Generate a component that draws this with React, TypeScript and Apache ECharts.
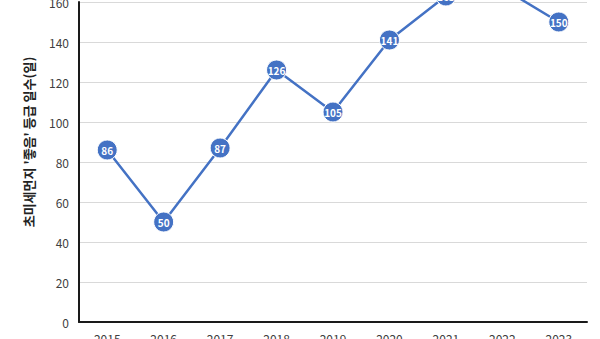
import React, { useEffect, useRef } from "react";
import * as echarts from "echarts";

const years = ["2015", "2016", "2017", "2018", "2019", "2020", "2021", "2022", "2023"];
const goodDays = [86, 50, 87, 126, 105, 141, 163, 167, 150];
const yAxisName = "초미세먼지 '좋음' 등급 일수(일)";

export default function App() {
  const ref = useRef<HTMLDivElement>(null);
  useEffect(() => {
    if (!ref.current) return;
    const chart = echarts.init(ref.current, null, { renderer: "svg" });
    const font = "'Noto Sans CJK KR', 'Noto Sans', sans-serif";
    chart.setOption({
      animation: false,
      backgroundColor: "#ffffff",
      grid: { left: 79, right: 13, top: 2, bottom: 17, outerBoundsMode: "none", containLabel: false },
      graphic: [
        {
          type: "text",
          x: 28,
          y: 142,
          rotation: Math.PI / 2,
          style: {
            text: yAxisName,
            fill: "#222",
            fontSize: 13,
            fontWeight: "bold",
            fontFamily: font,
            align: "center",
            verticalAlign: "middle",
          },
        },
      ],
      xAxis: {
        type: "category",
        data: years,
        boundaryGap: true,
        axisLine: { lineStyle: { color: "#1a1a1a", width: 2 } },
        axisTick: { show: false },
        axisLabel: { color: "#404040", fontSize: 12, margin: 10, fontFamily: font },
      },
      yAxis: {
        type: "value",
        min: 0,
        max: 160,
        interval: 20,
        axisLine: { show: true, lineStyle: { color: "#1a1a1a", width: 2 } },
        axisTick: { show: false },
        axisLabel: { color: "#404040", fontSize: 12, margin: 10, fontFamily: font },
        splitLine: { lineStyle: { color: "#d9d9d9", width: 1 } },
      },
      series: [
        {
          type: "line",
          data: goodDays,
          clip: false,
          symbol: "circle",
          symbolSize: 20,
          lineStyle: { color: "#4472c4", width: 2.5 },
          itemStyle: { color: "#4472c4", borderColor: "#ffffff", borderWidth: 1 },
          label: {
            show: true,
            position: "inside",
            color: "#ffffff",
            fontSize: 10,
            fontWeight: "bold",
            fontFamily: font,
          },
          z: 3,
        },
      ],
    });
    return () => chart.dispose();
  }, []);
  return (
    <div
      ref={ref}
      style={{ position: "fixed", left: 0, top: 0, width: 600, height: 339, background: "#fff" }}
    />
  );
}
